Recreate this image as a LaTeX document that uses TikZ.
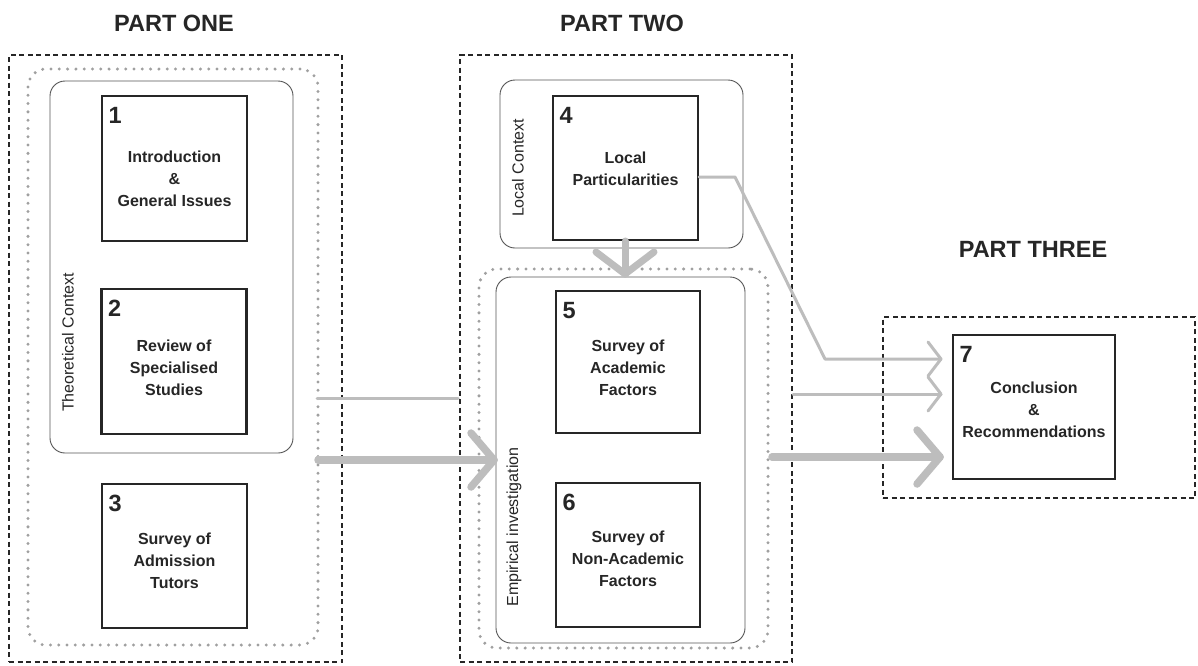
\documentclass[tikz,border=0pt]{standalone}
\usepackage{fontspec}
\setmainfont{Liberation Sans}
\definecolor{ink}{HTML}{262626}
\definecolor{flowgrey}{HTML}{BDBDBD}
\definecolor{dotgrey}{HTML}{A0A0A0}
\definecolor{framegrey}{HTML}{555555}

\begin{document}
\begin{tikzpicture}[x=1pt,y=-1pt,
  partframe/.style={draw=ink, line width=1.4pt, dash pattern=on 5pt off 3.5pt, inner sep=0pt},
  groupdots/.style={draw=dotgrey, line width=3.3pt, line cap=round, dash pattern=on 0pt off 8.3pt, rounded corners=18pt, inner sep=0pt},
  contextframe/.style={draw=framegrey, line width=0.9pt, rounded corners=15pt, inner sep=0pt},
  chapter/.style={draw=ink, line width=2.4pt, inner sep=0pt},
  chaptext/.style={font=\bfseries\fontsize{16}{22}\selectfont, align=center, text=ink, inner sep=0pt},
  chapnum/.style={font=\bfseries\fontsize{23.5}{26}\selectfont, text=ink, inner sep=0pt, anchor=base west},
  parttitle/.style={font=\bfseries\fontsize{23.5}{26}\selectfont, text=ink, inner sep=0pt, anchor=base},
  sidelabel/.style={font=\fontsize{16}{18}\selectfont, text=ink, rotate=90, inner sep=0pt},
  thinflow/.style={draw=flowgrey, line width=3pt, line cap=round, line join=round},
  thickflow/.style={draw=flowgrey, line width=7.5pt, line cap=round, line join=round},
]
\useasboundingbox[fill=white] (0,0) rectangle (1198,665);

% ---------- part titles ----------
\node[parttitle] (title1) at (174,31) {PART ONE};
\node[parttitle] (title2) at (622,31) {PART TWO};
\node[parttitle] (title3) at (1033,257) {PART THREE};

% ---------- part one ----------
\node[partframe, minimum width=333pt, minimum height=607pt] (part1) at (175.5,358.5) {};
\node[groupdots, minimum width=290pt, minimum height=576pt] (group1) at (173,357) {};
\node[contextframe, minimum width=243pt, minimum height=372pt] (theory) at (171.5,267) {};
\node[sidelabel] (theorylbl) at (68,342.5) {Theoretical Context};

\node[chapter, minimum width=145pt, minimum height=145pt] (b1) at (174.5,168.5) {};
\node[chapter, minimum width=145pt, minimum height=145pt] (b2) at (174,361.5) {};
\node[chapter, minimum width=145pt, minimum height=144pt] (b3) at (174.5,556) {};

% ---------- part two ----------
\node[partframe, minimum width=332pt, minimum height=607pt] (part2) at (626,358.5) {};
\node[contextframe, minimum width=243pt, minimum height=168pt] (local) at (621.5,164) {};
\node[sidelabel] (locallbl) at (518,168) {Local Context};
\node[groupdots, minimum width=289pt, minimum height=379pt] (group2) at (623.5,458.5) {};
\node[contextframe, minimum width=249pt, minimum height=366pt] (empir) at (620.5,460) {};
\node[sidelabel] (empirlbl) at (514,527) {Empirical investigation};

\node[chapter, minimum width=145pt, minimum height=144pt] (b4) at (625.5,168) {};
\node[chapter, minimum width=144pt, minimum height=142pt] (b5) at (628,362) {};
\node[chapter, minimum width=144pt, minimum height=144pt] (b6) at (628,555) {};

% ---------- part three ----------
\node[partframe, minimum width=312pt, minimum height=181pt] (part3) at (1039,407.5) {};
\node[chapter, minimum width=162pt, minimum height=144pt] (b7) at (1034,407) {};

% ---------- chapter numbers ----------
\node[chapnum] (n1) at ([shift={(7.5,29)}]b1.north west) {1};
\node[chapnum] (n2) at ([shift={(7.5,29)}]b2.north west) {2};
\node[chapnum] (n3) at ([shift={(7.5,29)}]b3.north west) {3};
\node[chapnum] (n4) at ([shift={(7.5,29)}]b4.north west) {4};
\node[chapnum] (n5) at ([shift={(7.5,29)}]b5.north west) {5};
\node[chapnum] (n6) at ([shift={(7.5,29)}]b6.north west) {6};
\node[chapnum] (n7) at ([shift={(7.5,29)}]b7.north west) {7};

% ---------- chapter titles ----------
\node[chaptext] (t1) at ([shift={(0,10.5)}]b1.center) {Introduction\\\&\\General Issues};
\node[chaptext] (t2) at ([shift={(0,6.5)}]b2.center) {Review of\\Specialised\\Studies};
\node[chaptext] (t3) at ([shift={(0,5)}]b3.center) {Survey of\\Admission\\Tutors};
\node[chaptext] (t4) at ([shift={(0,1)}]b4.center) {Local\\Particularities};
\node[chaptext] (t5) at ([shift={(0,6)}]b5.center) {Survey of\\Academic\\Factors};
\node[chaptext] (t6) at ([shift={(0,4)}]b6.center) {Survey of\\Non-Academic\\Factors};
\node[chaptext] (t7) at ([shift={(0,3)}]b7.center) {Conclusion\\\&\\Recommendations};

% ---------- flow connectors ----------
% local context feeds the empirical investigation
\coordinate (down0) at (625,241);
\coordinate (down1) at (625,274);
\draw[thickflow, line width=7pt] (down0) -- (down1);
\draw[thickflow, line width=7pt] ([shift={(-29,-22)}]down1) -- (down1) -- ([shift={(29,-22)}]down1);

% part one into part two
\coordinate (p1thin) at (317,398);
\coordinate (p2thin) at (458,398);
\draw[thinflow] (p1thin) -- (p2thin);
\coordinate (p1thick) at (318,460);
\coordinate (p2thick) at (494,460);
\draw[thickflow] (p1thick) -- (p2thick);
\draw[thickflow] ([shift={(-23,-27)}]p2thick) -- (p2thick) -- ([shift={(-23,27)}]p2thick);

% local particularities straight to the conclusion
\coordinate (l0) at ([yshift=-9pt]b4.east);
\coordinate (l1) at (735,177);
\coordinate (l2) at (825,359);
\coordinate (l3) at (941,359);
\draw[thinflow] (l0) -- (l1) -- (l2) -- (l3);
\draw[thinflow] ([shift={(-13,-17)}]l3) -- (l3) -- ([shift={(-13,17)}]l3);

% theoretical context carried through to the conclusion
\coordinate (m0) at (793,394);
\coordinate (m1) at (941,394);
\draw[thinflow] (m0) -- (m1);
\draw[thinflow] ([shift={(-13,-17)}]m1) -- (m1) -- ([shift={(-13,17)}]m1);

% empirical investigation into the conclusion
\coordinate (e0) at (772,457);
\coordinate (e1) at (940,457);
\draw[thickflow] (e0) -- (e1);
\draw[thickflow] ([shift={(-23,-27)}]e1) -- (e1) -- ([shift={(-23,27)}]e1);
\end{tikzpicture}
\end{document}
